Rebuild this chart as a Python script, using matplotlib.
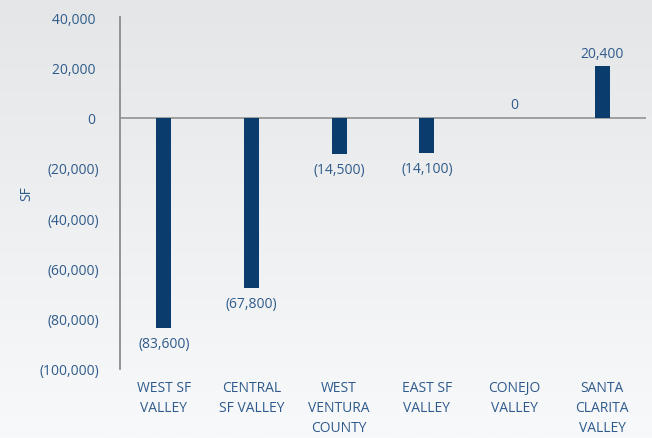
import numpy as np
import matplotlib
matplotlib.use("Agg")
import matplotlib.pyplot as plt
from matplotlib.colors import LinearSegmentedColormap

categories = ["WEST SF\nVALLEY", "CENTRAL\nSF VALLEY", "WEST\nVENTURA\nCOUNTY",
              "EAST SF\nVALLEY", "CONEJO\nVALLEY", "SANTA\nCLARITA\nVALLEY"]
values = [-83600, -67800, -14500, -14100, 0, 20400]
yticks = [40000, 20000, 0, -20000, -40000, -60000, -80000, -100000]

bar_color = "#0b3c6e"
text_color = "#2f5b8c"

def fmt(v):
    if v < 0:
        return "({:,})".format(-v)
    return "{:,}".format(v)

plt.rcParams['font.family'] = ['Open Sans', 'DejaVu Sans']

fig = plt.figure(figsize=(6.52, 4.39), dpi=100)

# gradient background
bg = fig.add_axes([0, 0, 1, 1], zorder=-10)
grad = np.linspace(0, 1, 256).reshape(-1, 1)
cmap = LinearSegmentedColormap.from_list("bg", ["#e5e6e8", "#f8f9fa"])
bg.imshow(grad, aspect="auto", cmap=cmap, extent=[0, 1, 0, 1], origin="upper")
bg.axis("off")

ax = fig.add_axes([120/652, 1-370/439, (646-120)/652, (370-18)/439])
ax.patch.set_alpha(0)
x = np.arange(len(categories))
ax.bar(x, values, width=0.17, color=bar_color, zorder=3)
ax.axhline(0, color="#9a9a9a", lw=1.3, zorder=2)

ax.set_xlim(-0.5, len(categories)-0.5)
ax.set_ylim(-100000, 40000)
ax.set_yticks(yticks)
ax.set_yticklabels([fmt(v) if v < 0 else fmt(v) + " " for v in yticks])
ax.set_xticks(x)
ax.set_xticklabels(categories, linespacing=1.45)
ax.tick_params(axis="y", length=0, pad=15, labelsize=10, labelcolor=text_color)
ax.tick_params(axis="x", length=0, pad=8, labelsize=10, labelcolor=text_color)
for s in ["top", "right", "bottom"]:
    ax.spines[s].set_visible(False)
ax.spines["left"].set_color("#8c8c8c")
ax.spines["left"].set_linewidth(1.3)

ax.set_ylabel("SF", color=text_color, fontsize=10, labelpad=4)

for xi, v in zip(x, values):
    if v < 0:
        ax.annotate(fmt(v), (xi, v), xytext=(0, -6), textcoords="offset points",
                    ha="center", va="top", color=text_color, fontsize=10)
    else:
        ax.annotate(fmt(v), (xi, v), xytext=(0, 4), textcoords="offset points",
                    ha="center", va="bottom", color=text_color, fontsize=10)

fig.savefig("out.png", dpi=100)
